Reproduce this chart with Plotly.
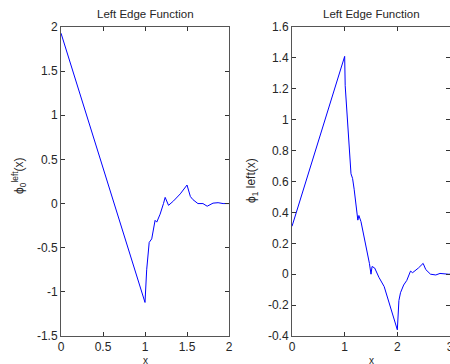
import plotly.graph_objects as go

# ---- data ----
x0 = [0.0, 1.0, 1.02, 1.05, 1.08, 1.12, 1.14, 1.18, 1.22, 1.24, 1.28, 1.34, 1.42, 1.50,
      1.54, 1.57, 1.63, 1.69, 1.74, 1.81, 1.87, 1.93, 2.0]
y0 = [1.93, -1.12, -0.75, -0.44, -0.40, -0.19, -0.21, -0.12, 0.0, 0.07, -0.02, 0.03, 0.11, 0.21,
      0.08, 0.045, 0.0, 0.0, -0.03, 0.005, 0.01, 0.0, 0.0]

x1 = [0.0, 1.0, 1.01, 1.06, 1.12, 1.15, 1.18, 1.25, 1.27, 1.31, 1.39, 1.47, 1.50, 1.52,
      1.57, 1.65, 1.75, 1.87, 2.0, 2.03, 2.06, 2.12, 2.18, 2.25, 2.29, 2.40, 2.49,
      2.54, 2.63, 2.73, 2.81, 2.97, 3.0]
y1 = [0.31, 1.41, 1.22, 0.93, 0.65, 0.62, 0.55, 0.35, 0.38, 0.34, 0.21, 0.07, 0.0, 0.05,
      0.04, -0.02, -0.08, -0.22, -0.36, -0.17, -0.12, -0.07, -0.04, 0.02, 0.01, 0.04, 0.07,
      0.03, 0.0, -0.005, 0.005, 0.0, 0.0]

xt0 = [0, 0.5, 1, 1.5, 2]
xt0_text = ["0", "0.5", "1", "1.5", "2"]
yt0 = [-1.5, -1, -0.5, 0, 0.5, 1, 1.5, 2]
yt0_text = ["-1.5", "-1", "-0.5", "0", "0.5", "1", "1.5", "2"]

xt1 = [0, 1, 2, 3]
xt1_text = ["0", "1", "2", "3"]
yt1 = [-0.4, -0.2, 0, 0.2, 0.4, 0.6, 0.8, 1.0, 1.2, 1.4, 1.6]
yt1_text = ["-0.4", "-0.2", "0", "0.2", "0.4", "0.6", "0.8", "1", "1.2", "1.4", "1.6"]

titles = ["Left Edge Function", "Left Edge Function"]

FONT = "Liberation Sans"
TXT = "#262626"

fig = go.Figure()
fig.add_trace(go.Scatter(x=x0, y=y0, mode="lines", line=dict(color="#0000ff", width=1),
                         xaxis="x", yaxis="y", showlegend=False))
fig.add_trace(go.Scatter(x=x1, y=y1, mode="lines", line=dict(color="#0000ff", width=1),
                         xaxis="x2", yaxis="y2", showlegend=False))

L, R, T, B = 61, 0, 27, 28
W, H = 450, 364
pw = W - L - R
d0 = [0, (229 - L) / pw]
d1 = [(292 - L) / pw, 1.0]

ax_common = dict(showgrid=False, zeroline=False, showline=True, linecolor="#555555",
                 linewidth=1, mirror="ticks", ticks="inside", ticklen=4, tickcolor="#333333",
                 automargin=False, ticklabeloverflow="allow",
                 tickfont=dict(family=FONT, size=12, color=TXT))

fig.update_layout(
    width=W, height=H,
    margin=dict(l=L, r=R, t=T, b=B, autoexpand=False),
    paper_bgcolor="white", plot_bgcolor="white",
    font=dict(family=FONT, size=12, color=TXT),
    xaxis=dict(domain=d0, range=[0, 2], tickvals=xt0, ticktext=xt0_text, anchor="y", **ax_common),
    yaxis=dict(domain=[0, 1], range=[-1.5, 2], tickvals=yt0, ticktext=yt0_text, anchor="x", **ax_common),
    xaxis2=dict(domain=d1, range=[0, 3], tickvals=xt1, ticktext=xt1_text, anchor="y2", **ax_common),
    yaxis2=dict(domain=[0, 1], range=[-0.4, 1.6], tickvals=yt1, ticktext=yt1_text, anchor="x2", **ax_common),
)

def px_to_paper_x(px):
    return (px - L) / pw

def px_to_paper_y(py):
    return (H - B - py) / (H - T - B)

def label(text, px, py, size, angle=0):
    return dict(text=text, x=px_to_paper_x(px), y=px_to_paper_y(py), xref="paper", yref="paper",
                xanchor="center", yanchor="middle", showarrow=False, textangle=angle,
                font=dict(family=FONT, size=size, color=TXT))

ann = [
    label(titles[0], 145, 14, 11.5),
    label(titles[1], 371, 14, 11.5),
    label("x", 145, 360, 10),
    label("x", 371, 360, 10),
    label("ϕ<sub>0</sub><sup>left</sup>(x)", 19, 176, 12, -90),
    label("ϕ<sub>1</sub> left(x)", 252, 181, 12, -90),
]
fig.update_layout(annotations=ann)

fig.write_html("out.html", config={"displayModeBar": False},
               post_script="document.body.style.margin='0';document.body.style.overflow='hidden';")
